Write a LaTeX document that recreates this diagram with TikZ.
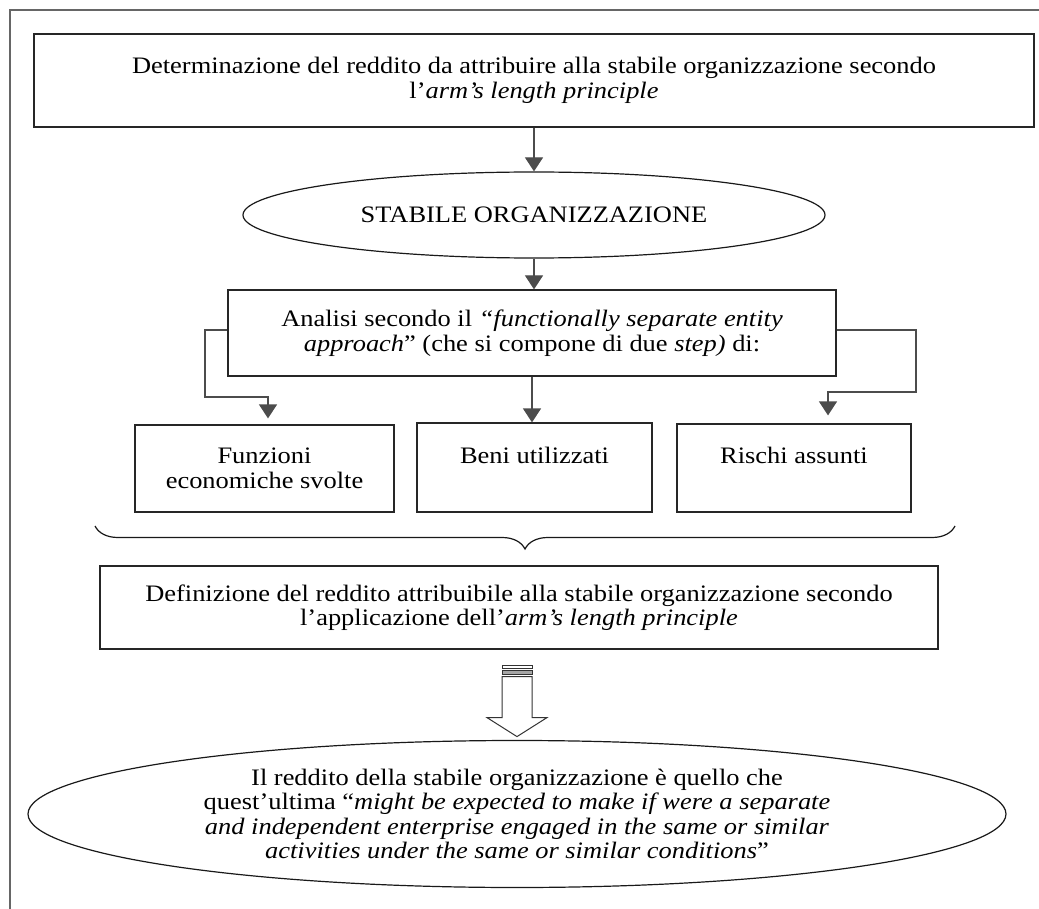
\documentclass[tikz,border=0pt]{standalone}
\usepackage{fontspec}
\setmainfont{Liberation Serif}[FakeStretch=1.12]
\usetikzlibrary{arrows.meta,shapes.geometric,decorations.pathreplacing}
\begin{document}
\begin{tikzpicture}[x=0.5pt,y=-0.5pt,
  every node/.style={font=\fontsize{11.8}{12.25}\selectfont, text=black},
  box/.style={draw=black!85, line width=0.6pt, inner sep=0pt, align=center, rectangle},
  oval/.style={draw=black!90, line width=0.6pt, inner sep=0pt, align=center, ellipse},
  arr/.style={draw=black!70, line width=0.6pt, -{Triangle[width=9pt,length=7pt]}},
  frame/.style={draw=black!60, line width=0.8pt}]
\useasboundingbox (0,0) rectangle (1039,909);
\draw[frame] (10,909) -- (10,10) -- (1039,10);

\node[box, minimum width=500pt, minimum height=46.5pt] (b1) at (534,80.5)
  {Determinazione del reddito da attribuire alla stabile organizzazione secondo\\ l'\textit{arm's length principle}};
\node[oval, minimum width=291pt, minimum height=43pt] (e1) at (534,215) {STABILE ORGANIZZAZIONE};
\node[box, minimum width=304pt, minimum height=43pt] (b2) at (532,333)
  {Analisi secondo il \textit{“functionally separate entity}\\ \textit{approach}” (che si compone di due \textit{step)} di:};
\node[box, minimum width=129.5pt, minimum height=43.5pt] (b3) at (264.5,468.5) {Funzioni\\ economiche svolte};
\node[box, minimum width=117.5pt, minimum height=44.5pt] (b4) at (534.5,467.5) {Beni utilizzati\\ \mbox{}};
\node[box, minimum width=117pt, minimum height=44pt] (b5) at (794,468) {Rischi assunti\\ \mbox{}};
\node[box, minimum width=419pt, minimum height=41.5pt] (b6) at (519,607.5)
  {Definizione del reddito attribuibile alla stabile organizzazione secondo\\ l'applicazione dell'\textit{arm's length principle}};
\node[oval, minimum width=489pt, minimum height=73.5pt] (e2) at (517,814)
  {Il reddito della stabile organizzazione è quello che\\
   quest'ultima “\textit{might be expected to make if were a separate}\\
   \textit{and independent enterprise engaged in the same or similar}\\
   \textit{activities under the same or similar conditions}”};

\draw[arr] (b1.south) -- (e1.north);
\draw[arr] (e1.south) -- (e1.south |- b2.north);
\coordinate (l1) at (205,330); \coordinate (l2) at (205,397); \coordinate (l3) at (268,397);
\draw[arr, shorten >=3pt] (b2.west |- l1) -- (l1) -- (l2) -- (l3) -- (l3 |- b3.north);
\draw[arr] (b2.south) -- (b2.south |- b4.north);
\coordinate (r1) at (916,330); \coordinate (r2) at (916,392); \coordinate (r3) at (828,392);
\draw[arr, shorten >=4pt] (b2.east |- r1) -- (r1) -- (r2) -- (r3) -- (r3 |- b5.north);

\coordinate (brL) at (95,526); \coordinate (brR) at (955,526);
\draw[black!90, line width=0.6pt, decorate, decoration={brace, mirror, amplitude=11.5pt}] (brL) -- (brR);

\begin{scope}[shift={(b6.south)}, black!80, line width=0.5pt]
  \draw (-17,16) rectangle (13,18.5);
  \draw[fill=black!35] (-17,20.5) rectangle (13,25);
  \draw (-17,27) -- (-17,68) -- (-32,68) -- (-2,87) -- (28,68) -- (13,68) -- (13,27) -- cycle;
\end{scope}
\end{tikzpicture}
\end{document}
